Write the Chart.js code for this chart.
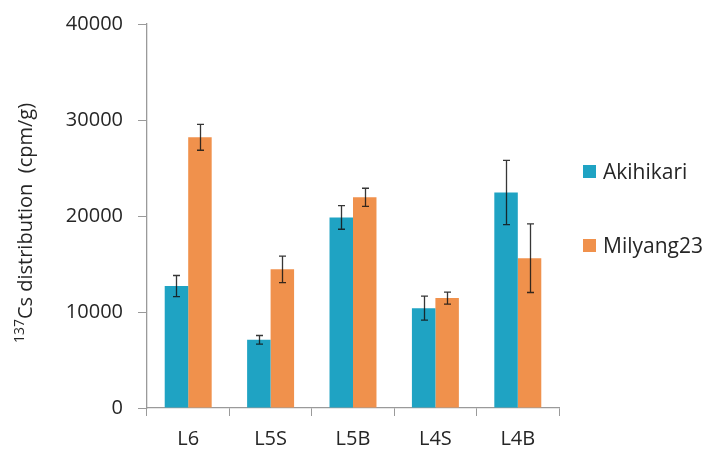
<!DOCTYPE html>
<html>
<head>
<meta charset="utf-8">
<script src="https://cdn.jsdelivr.net/npm/chart.js@4"></script>
<style>
  html, body { margin: 0; padding: 0; background: #fff; }
  #wrap { position: relative; width: 709px; height: 450px; }
  .legend-item { position: absolute; left: 583px; font: 21px 'Open Sans'; color: #262626; line-height: 1; }
  .legend-item span { display: inline-block; width: 13px; height: 13px; margin-right: 7px; vertical-align: 1px; }
</style>
</head>
<body>
<div id="wrap">
  <canvas id="chart" width="709" height="450"></canvas>
  <div class="legend-item" style="top:161px"><span style="background:#1fa3c3"></span>Akihikari</div>
  <div class="legend-item" style="top:235px"><span style="background:#f0914c"></span>Milyang23</div>
</div>
<script>
// categories and series
const LABELS = ['L6', 'L5S', 'L5B', 'L4S', 'L4B'];
const AKIHIKARI = [12700, 7100, 19850, 10400, 22450];
const AKIHIKARI_ERR = [1100, 450, 1230, 1250, 3350];
const MILYANG = [28200, 14450, 21950, 11450, 15600];
const MILYANG_ERR = [1350, 1380, 940, 620, 3570];
const Y_TICKS = [0, 10000, 20000, 30000, 40000];

const TEAL = '#1fa3c3';
const ORANGE = '#f0914c';
const AXIS = '#9a9a9a';
const TEXT = '#262626';

// ─── Error bars drawn from the dataset values ───────────────────
const errorBars = {
  id: 'errorBars',
  afterDatasetsDraw(chart) {
    const { ctx } = chart;
    const y = chart.scales.y;
    ctx.save();
    ctx.strokeStyle = 'rgba(20,20,20,0.85)';
    ctx.lineWidth = 1.3;
    chart.data.datasets.forEach((ds, di) => {
      const meta = chart.getDatasetMeta(di);
      meta.data.forEach((bar, i) => {
        const v = ds.data[i], e = ds.errors[i];
        const top = y.getPixelForValue(v + e);
        const bot = y.getPixelForValue(v - e);
        const x = Math.round(bar.x) + 0.5;
        ctx.beginPath();
        ctx.moveTo(x, top); ctx.lineTo(x, bot);
        ctx.moveTo(x - 3.5, top); ctx.lineTo(x + 3.5, top);
        ctx.moveTo(x - 3.5, bot); ctx.lineTo(x + 3.5, bot);
        ctx.stroke();
      });
    });
    ctx.restore();
  }
};

// ─── Y title with superscript 137 ───────────────────────────────
const yTitle = {
  id: 'yTitle',
  afterDraw(chart) {
    const { ctx, chartArea } = chart;
    const sup = '137';
    const main = 'Cs distribution  (cpm/g)';
    ctx.save();
    ctx.fillStyle = TEXT;
    ctx.font = '14px "Open Sans"';
    const wSup = ctx.measureText(sup).width;
    ctx.font = '20px "Open Sans"';
    const wMain = ctx.measureText(main).width;
    const cy = (chartArea.top + chartArea.bottom) / 2 + 7;
    ctx.translate(32, cy);
    ctx.rotate(-Math.PI / 2);
    const start = -(wSup + wMain) / 2;
    ctx.textBaseline = 'alphabetic';
    ctx.font = '14px "Open Sans"';
    ctx.fillText(sup, start, -8);
    ctx.font = '20px "Open Sans"';
    ctx.fillText(main, start + wSup, 0);
    ctx.restore();
  }
};

new Chart(document.getElementById('chart').getContext('2d'), {
  type: 'bar',
  data: {
    labels: LABELS,
    datasets: [
      { label: 'Akihikari', data: AKIHIKARI, errors: AKIHIKARI_ERR, backgroundColor: TEAL },
      { label: 'Milyang23', data: MILYANG, errors: MILYANG_ERR, backgroundColor: ORANGE }
    ]
  },
  options: {
    responsive: false,
    animation: false,
    categoryPercentage: 0.57,
    barPercentage: 1.0,
    layout: { padding: { left: 0, right: 150, top: 24, bottom: 0 } },
    plugins: { legend: { display: false }, tooltip: { enabled: false } },
    scales: {
      x: {
        grid: { drawOnChartArea: false, color: AXIS, tickLength: 8, offset: true },
        border: { color: AXIS, width: 1.3 },
        ticks: { color: TEXT, font: { family: 'Open Sans', size: 20 }, padding: 11 },
        afterFit(scale) { scale.height = 42; scale.paddingLeft = 0; scale.paddingRight = 0; }
      },
      y: {
        min: 0,
        max: 40000,
        afterBuildTicks(scale) { scale.ticks = Y_TICKS.map(v => ({ value: v })); },
        grid: { drawOnChartArea: false, color: AXIS, tickLength: 9 },
        border: { color: AXIS, width: 1.3 },
        ticks: {
          color: TEXT,
          font: { family: 'Open Sans', size: 20 },
          padding: 15,
          callback: v => String(v)
        },
        afterFit(scale) { scale.width = 147; scale.paddingTop = 0; scale.paddingBottom = 0; }
      }
    }
  },
  plugins: [errorBars, yTitle]
});
</script>
</body>
</html>
